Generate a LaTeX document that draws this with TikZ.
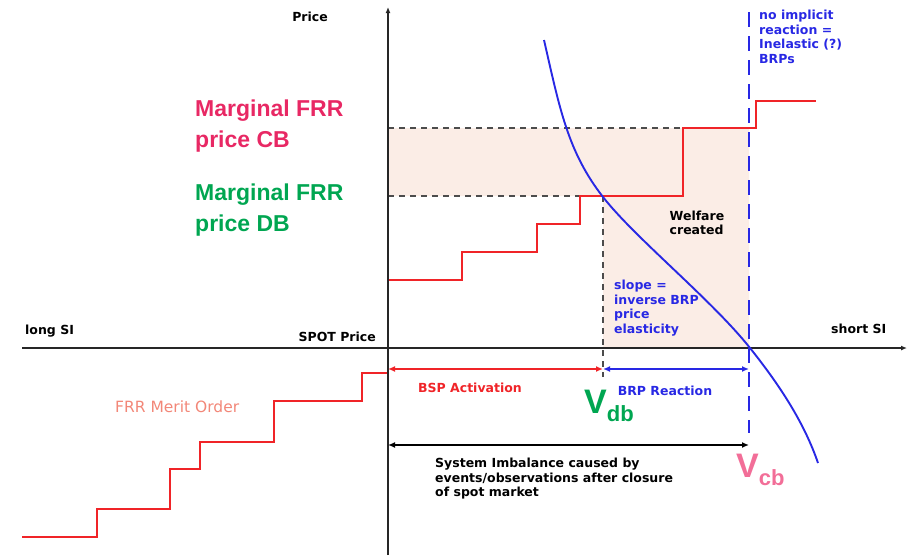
\documentclass[tikz,border=0pt]{standalone}
\usepackage{fontspec}
\setmainfont{DejaVu Sans}
\newfontfamily\arialfont{Liberation Sans}
\usepackage{tikz}
\usetikzlibrary{positioning}
\usetikzlibrary{arrows.meta}

\definecolor{frrred}{RGB}{240,36,40}
\definecolor{welfarefill}{RGB}{251,237,230}
\definecolor{brpblue}{RGB}{40,40,228}
\definecolor{cbpink}{RGB}{232,40,100}
\definecolor{dbgreen}{RGB}{0,166,81}
\definecolor{vcbpink}{RGB}{242,110,152}
\definecolor{meritpink}{RGB}{242,135,120}

\tikzset{
  smalllbl/.style={font=\bfseries\fontsize{12.5}{14.5}\selectfont, inner sep=0pt, align=left},
  biglbl/.style={font=\arialfont\bfseries\fontsize{23}{31}\selectfont, inner sep=0pt, align=left},
  axisline/.style={line width=2.2pt, black!85, -{Latex[length=6pt,width=5pt]}},
  steps/.style={line width=2.2pt, frrred},
  gapdash/.style={line width=1.3pt, black!70, dash pattern=on 6pt off 5pt},
  measure/.style={line width=2.4pt, {Latex[length=7pt,width=6pt]}-{Latex[length=7pt,width=6pt]}}
}

\begin{document}
\begin{tikzpicture}[x=1pt,y=1pt]
\useasboundingbox (0,0) rectangle (913,-555);
\coordinate (axbot) at (388,-555);
\coordinate (axtop) at (388,-7);
\coordinate (axleft) at (22,-348);
\coordinate (axright) at (907,-348);
\coordinate (actl) at (388,-369);
\coordinate (actm) at (603,-369);
\coordinate (actr) at (749,-369);
\coordinate (siml) at (388,-445);
\coordinate (simr) at (749,-445);
\coordinate (cbtop) at (749,-12);
\coordinate (cbbot) at (749,-433);
\coordinate (dbtop) at (603,-196);
\coordinate (dbbot) at (603,-377);
\coordinate (cbl) at (388,-128);
\coordinate (cbr) at (683,-128);
\coordinate (dbl) at (388,-196);
\coordinate (dbr) at (580,-196);

\fill [welfarefill] (388,-128) -- (749,-128) -- (749,-348) -- (603,-348) -- (603,-196) -- (388,-196) -- cycle;

\draw [gapdash] (cbl) -- (cbr);
\draw [gapdash] (dbl) -- (dbr);
\draw [gapdash] (dbtop) -- (dbbot);

\draw [steps] (388,-280) -- (462,-280) -- (462,-252) -- (537,-252) -- (537,-224) -- (580,-224) -- (580,-196) -- (683,-196) -- (683,-128) -- (756,-128) -- (756,-101) -- (816,-101);
\draw [steps] (22,-537) -- (97,-537) -- (97,-509) -- (170,-509) -- (170,-469) -- (200,-469) -- (200,-442) -- (274,-442) -- (274,-401) -- (362,-401) -- (362,-373) -- (388,-373);

\draw [axisline] (axleft) -- (axright);
\draw [axisline] (axbot) -- (axtop);

\draw [line width=2.2pt, brpblue, dash pattern=on 15pt off 9pt] (cbtop) -- (cbbot);
\draw [line width=1.9pt, brpblue] (544,-40) .. controls (560,-110) and (568,-152) .. (603,-197) .. controls (635,-238) and (712,-300) .. (750,-348) .. controls (782,-388) and (805,-425) .. (818,-463);

\draw [measure, frrred] (actl) -- (actm);
\draw [measure, brpblue] (actm) -- (actr);
\draw [measure, black] (siml) -- (simr);

\node [smalllbl] (price) at (310,-17) {Price};
\node [smalllbl, anchor=west] (longsi) at (25,-331) {long SI};
\node [smalllbl, anchor=east] (spot) at (376,-337) {SPOT Price};
\node [smalllbl, anchor=west] (shortsi) at (831,-329) {short SI};
\node [biglbl, cbpink, anchor=west] (cbprice) at (195,-126) {Marginal FRR\\price CB};
\node [biglbl, dbgreen, anchor=west] (dbprice) at (195,-210) {Marginal FRR\\price DB};
\node [font=\fontsize{15.5}{17}\selectfont, meritpink, inner sep=0pt, anchor=west] (merit) at (115,-407) {FRR Merit Order};
\node [smalllbl] (welfare) at (697,-223) {Welfare\\created};
\node [smalllbl, brpblue, anchor=north west] (inelastic) at (759,-10) {no implicit\\reaction =\\Inelastic (?)\\BRPs};
\node [smalllbl, brpblue, anchor=north west] (slope) at (614,-280) {slope =\\inverse BRP\\price\\elasticity};
\node [smalllbl, frrred] (bsp) at (470,-388) {BSP Activation};
\node [smalllbl, brpblue] (brp) at (665,-391) {BRP Reaction};
\node [smalllbl, anchor=north west] (imbalance) at (435,-458) {System Imbalance caused by\\events/observations after closure\\of spot market};
\node [font=\arialfont\bfseries, dbgreen, inner sep=0pt, anchor=south west] (vdb) at (584,-422) {\fontsize{34}{34}\selectfont V\raisebox{-8pt}{\fontsize{22}{22}\selectfont db}};
\node [font=\arialfont\bfseries, vcbpink, inner sep=0pt, anchor=south west] (vcb) at (736,-486) {\fontsize{34}{34}\selectfont V\raisebox{-8pt}{\fontsize{22}{22}\selectfont cb}};
\end{tikzpicture}
\end{document}
